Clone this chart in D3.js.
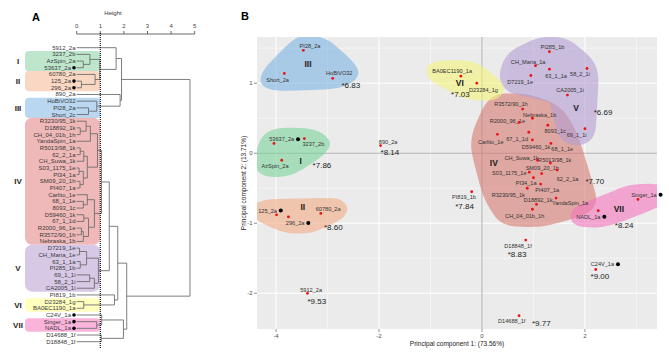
<!DOCTYPE html>
<html>
<head>
<meta charset="utf-8">
<script src="https://cdn.jsdelivr.net/npm/d3@7"></script>
<style>
    body { margin: 0; background: #fff; }
    svg { font-family: "Liberation Sans", Arial, sans-serif; }
</style>
</head>
<body>
<svg id="chart" width="669" height="356"></svg>
<script>
// ---------- Panel A : dendrogram ----------
const leaves = ["5912_2a", "3237_2b", "AzSpin_2a", "53637_2a", "60780_2a", "125_2a", "296_2a", "890_2a",
    "HoBiVO32", "PI28_2a", "Short_2c", "R3230/95_1k", "D18892_1k", "CH_04_01b_1h", "YandaSpin_1a",
    "R5013/98_1k", "62_2_1a", "CH_Suwa_1k", "S03_1175_1e", "PI34_1a", "SM09_20_1h", "PI407_1a",
    "Carlito_1e", "68_1_1e", "8093_1c", "D59460_1k", "67_1_1d", "R2000_96_1e", "R3572/90_1h",
    "Nebraska_1b", "D7219_1e", "CH_Maria_1e", "63_1_1a", "PI285_1b", "69_1_1i", "58_2_1i", "CA2005_1i",
    "PI819_1b", "D23284_1g", "BA0EC1190_1a", "C24V_1a", "Singer_1a", "NADL_1a", "D14688_1f", "D18848_1f"];

const markedLeaves = ["53637_2a", "125_2a", "296_2a", "C24V_1a", "Singer_1a", "NADL_1a"];

// [node id, child 1, child 2, height]
const merges = [
    ["i1", "AzSpin_2a", "53637_2a", 0.28],
    ["i2", "3237_2b", "i1", 0.56],
    ["ii1", "125_2a", "296_2a", 0.2],
    ["ii2", "60780_2a", "ii1", 0.78],
    ["a1", "i2", "ii2", 0.98],
    ["a2", "5912_2a", "a1", 1.67],
    ["iii1", "PI28_2a", "Short_2c", 0.5],
    ["iii2", "HoBiVO32", "iii1", 0.85],
    ["a3", "890_2a", "iii2", 1.84],
    ["a4", "a2", "a3", 1.9],
    ["n1", "D18892_1k", "CH_04_01b_1h", 0.15],
    ["n2", "R3230/95_1k", "n1", 0.4],
    ["n3", "n2", "YandaSpin_1a", 0.58],
    ["n4", "R5013/98_1k", "62_2_1a", 0.15],
    ["n5", "n4", "CH_Suwa_1k", 0.3],
    ["n6", "S03_1175_1e", "PI34_1a", 0.1],
    ["n7", "SM09_20_1h", "PI407_1a", 0.14],
    ["n8", "n6", "n7", 0.28],
    ["n9", "n5", "n8", 0.45],
    ["n10", "n3", "n9", 0.88],
    ["m1", "68_1_1e", "8093_1c", 0.28],
    ["m2", "Carlito_1e", "m1", 0.45],
    ["m3", "D59460_1k", "67_1_1d", 0.3],
    ["m4", "R2000_96_1e", "R3572/90_1h", 0.2],
    ["m5", "m4", "Nebraska_1b", 0.28],
    ["m6", "m3", "m5", 0.5],
    ["m7", "m2", "m6", 0.75],
    ["iv", "n10", "m7", 1.05],
    ["v1", "D7219_1e", "CH_Maria_1e", 0.12],
    ["v2", "63_1_1a", "PI285_1b", 0.15],
    ["v3", "v1", "v2", 0.42],
    ["v4", "69_1_1i", "58_2_1i", 0.55],
    ["v5", "v4", "CA2005_1i", 0.75],
    ["v", "v3", "v5", 0.92],
    ["b1", "iv", "v", 1.38],
    ["vi", "D23284_1g", "BA0EC1190_1a", 0.3],
    ["b2", "PI819_1b", "vi", 1.6],
    ["b3", "b1", "b2", 1.74],
    ["vii", "Singer_1a", "NADL_1a", 0.85],
    ["c1", "C24V_1a", "vii", 1.06],
    ["c2", "D14688_1f", "D18848_1f", 1.04],
    ["c3", "c1", "c2", 1.98],
    ["b4", "b3", "c3", 2.12],
    ["root", "a4", "b4", 4.8]
];

const heightTicks = [0, 1, 2, 3, 4, 5];

const groupNames = ["I", "II", "III", "IV", "V", "VI", "VII"];
const groupFirst = ["3237_2b", "60780_2a", "HoBiVO32", "R3230/95_1k", "D7219_1e", "D23284_1g", "Singer_1a"];
const groupLast = ["53637_2a", "296_2a", "Short_2c", "Nebraska_1b", "CA2005_1i", "BA0EC1190_1a", "NADL_1a"];
const boxColors = ["#bee6cd", "#fad7c3", "#b9d7f0", "#f0b9b9", "#d7c8e6", "#ffffbe", "#fab4dc"];
const hullColors = ["#7ad49a", "#f3ac86", "#7db4e3", "#d77a72", "#b49ed4", "#f3f37a", "#f375bd"];

// ---------- Panel B : PCA ----------
const pcaNames = ["PI28_2a", "Short_2a", "HoBiVO32", "BA0EC1190_1a", "D23284_1g",
    "PI285_1b", "CH_Maria_1a", "63_1_1a", "58_2_1i", "D7219_1e", "CA2005_1i", "69_1_1i",
    "R3572/90_1h", "Nebraska_1b", "R2000_96_1e", "8093_1c", "Carlito_1e", "67_1_1d", "D59460_1k",
    "68_1_1e", "CH_Suwa_1k", "R5013/98_1k", "SM09_20_1h", "S03_1175_1e", "62_2_1a", "PI34_1a",
    "PI407_1a", "R3230/95_1k", "YandaSpin_1a", "D18892_1k", "CH_04_01b_1h",
    "53637_2a", "3237_2b", "AzSpin_2a", "125_2a", "296_2a", "60780_2a", "Singer_1a", "NADL_1a",
    "890_2a", "PI819_1b", "5912_2a", "D18848_1f", "C24V_1a", "D14688_1f"];
const pc1 = [-3.47, -3.84, -2.90, -0.41, -0.10,
    1.31, 1.04, 1.31, 2.04, 0.95, 1.66, 2.00,
    0.79, 0.98, 0.72, 1.28, 0.30, 0.91, 0.98,
    1.34, 1.08, 1.33, 1.16, 0.92, 1.46, 1.00,
    1.14, 0.88, 1.44, 1.06, 0.98,
    -4.04, -3.45, -3.89, -3.99, -3.76, -3.13, 3.03, 2.26,
    -1.97, -0.20, -3.39, 0.85, 2.21, 0.72];
const pc2 = [1.47, 1.14, 1.07, 1.10, 1.00,
    1.45, 1.25, 1.20, 1.21, 1.11, 0.83, 0.35,
    0.63, 0.50, 0.44, 0.40, 0.27, 0.30, 0.19,
    0.14, -0.10, -0.14, -0.29, -0.27, -0.24, -0.35,
    -0.44, -0.50, -0.64, -0.73, -0.80,
    0.14, 0.21, -0.10, -0.88, -0.91, -0.86, -0.66, -0.82,
    0.11, -0.55, -2.00, -1.24, -1.66, -2.32];
const pcaGroup = ["III", "III", "III", "VI", "VI",
    "V", "V", "V", "V", "V", "V", "V",
    "IV", "IV", "IV", "IV", "IV", "IV", "IV",
    "IV", "IV", "IV", "IV", "IV", "IV", "IV",
    "IV", "IV", "IV", "IV", "IV",
    "I", "I", "I", "II", "II", "II", "VII", "VII",
    "", "", "", "", "", ""];

// cluster annotations (text, pc1, pc2 anchor)
const scoreText = ["*6.83", "*7.03", "*6.69", "*7.86", "*8.14", "*8.60", "*7.70", "*7.84", "*8.24", "*9.53", "*8.83", "*9.00", "*9.77"];
const scoreX = [-2.73, -0.60, 2.17, -3.29, -1.97, -3.07, 2.01, -0.52, 2.58, -3.39, 0.50, 2.11, 0.97];
const scoreY = [0.97, 0.84, 0.59, -0.17, 0.02, -1.05, -0.40, -0.76, -1.02, -2.11, -1.44, -1.76, -2.42];

const romanX = [-3.52, -3.48, -3.38, 0.23, 1.83, -0.43, 2.66];
const romanY = [-0.11, -0.77, 1.27, -0.14, 0.65, 1.00, -0.80];

const pcxTicks = [-4, -2, 0, 2];
const pcyTicks = [-2, -1, 0, 1];

// label nudges in px (layout only)
const labelNudge = {
    "PI28_2a": [6.7, -4.3], "Short_2a": [-6.7, 6.4], "HoBiVO32": [6.6, -5],
    "BA0EC1190_1a": [-8.7, -5], "D23284_1g": [6.6, 6.6],
    "PI285_1b": [3, -4.4], "CH_Maria_1a": [-7.4, -4], "63_1_1a": [6.7, 6.7], "58_2_1i": [-7, 5.7],
    "D7219_1e": [-10.7, 6], "CA2005_1i": [2.7, -5], "69_1_1i": [-8.3, 6],
    "R3572/90_1h": [-11.7, -4.7], "Nebraska_1b": [7.3, -3.6], "R2000_96_1e": [-11.6, -1.6],
    "8093_1c": [7.3, 5.7], "Carlito_1e": [-6.6, 7.4], "67_1_1d": [-11.7, 6.3], "D59460_1k": [3.7, 7],
    "68_1_1e": [11.3, 5.7], "CH_Suwa_1k": [-16, -2.3], "R5013/98_1k": [4.3, -3.4],
    "SM09_20_1h": [0.6, -5.3], "S03_1175_1e": [-20, 0.6], "62_2_1a": [10.4, 9], "PI34_1a": [-7.3, 5.3],
    "PI407_1a": [6.6, 6.3], "R3230/95_1k": [-19, 6.3], "YandaSpin_1a": [14, 5], "D18892_1k": [1.6, -4.3],
    "CH_04_01b_1h": [-7.7, 6.7], "53637_2a": [7.7, -4.3], "3237_2b": [9, 5], "AzSpin_2a": [-6.7, 6],
    "125_2a": [-9, -4.3], "296_2a": [6.7, 6], "60780_2a": [7.3, -4.6], "Singer_1a": [6, -4.7],
    "NADL_1a": [-10, 6], "890_2a": [7.6, -3.3], "PI819_1b": [-7.7, 5.6], "5912_2a": [3.7, -3.4],
    "D18848_1f": [-7.7, 6], "C24V_1a": [6.7, -5.3], "D14688_1f": [-7.3, 5.3]
};

// cluster V has a concave tail: draw it as two overlapping blobs
const hullTail = {"V": ["CA2005_1i", "58_2_1i", "69_1_1i"]};

const svg = d3.select("#chart");

// =============== Panel A ===============
const hx = d3.scaleLinear().domain([0, 5]).range([76.7, 194.7]);
const leafY = d3.scalePoint().domain(leaves).range([47.7, 341.7]);

svg.append("text").attr("x", 36).attr("y", 21).attr("text-anchor", "middle")
    .style("font-size", "11px").style("font-weight", "bold").text("A");
svg.append("text").attr("x", 113).attr("y", 15).attr("text-anchor", "middle")
    .style("font-size", "6px").style("fill", "#333").text("Height");

const axisA = svg.append("g");
axisA.append("line").attr("x1", hx(0)).attr("x2", hx(5)).attr("y1", 34).attr("y2", 34)
    .style("stroke", "#444").style("stroke-width", 0.8);
axisA.selectAll(".tk").data(heightTicks).enter().append("line")
    .attr("x1", d => hx(d)).attr("x2", d => hx(d)).attr("y1", 31).attr("y2", 34)
    .style("stroke", "#444").style("stroke-width", 0.8);
axisA.selectAll(".tl").data(heightTicks).enter().append("text")
    .attr("x", d => hx(d)).attr("y", 28).attr("text-anchor", "middle")
    .style("font-size", "6px").style("fill", "#444").text(d => d);

// group boxes
svg.append("g").selectAll("rect").data(groupNames).enter().append("rect")
    .attr("x", 25)
    .attr("y", (d, i) => leafY(groupFirst[i]) - 3.4)
    .attr("width", hx(1) - 25)
    .attr("height", (d, i) => leafY(groupLast[i]) - leafY(groupFirst[i]) + 6.8)
    .attr("rx", (d, i) => i === 3 || i === 4 ? 7 : 4)
    .style("fill", (d, i) => boxColors[i]);

svg.append("g").selectAll("text").data(groupNames).enter().append("text")
    .attr("x", 18)
    .attr("y", (d, i) => (leafY(groupFirst[i]) + leafY(groupLast[i])) / 2 + 3)
    .attr("text-anchor", "middle")
    .style("font-size", "8px").style("font-weight", "bold").style("fill", "#222")
    .text(d => d);

// tree
const pos = {};
leaves.forEach(l => pos[l] = {x: hx(0), y: leafY(l)});
const tree = svg.append("g");
merges.forEach(([id, c1, c2, h]) => {
    const a = pos[c1], b = pos[c2];
    const node = {x: hx(h), y: (a.y + b.y) / 2};
    pos[id] = node;
    tree.append("path")
        .attr("d", `M${a.x},${a.y}H${node.x}V${b.y}H${b.x}`)
        .style("fill", "none").style("stroke", "#6e6e6e").style("stroke-width", 0.9);
});

// cut line
svg.append("line").attr("x1", hx(1)).attr("x2", hx(1)).attr("y1", 33).attr("y2", 348)
    .style("stroke", "#111").style("stroke-width", 1.2).style("stroke-dasharray", "1,1");

// leaf labels
svg.append("g").selectAll("text").data(leaves).enter().append("text")
    .attr("x", d => markedLeaves.includes(d) ? 71 : 75.5)
    .attr("y", d => leafY(d) + 2)
    .attr("text-anchor", "end")
    .style("font-size", "6px").style("fill", "#3a3a3a")
    .text(d => d);
svg.append("g").selectAll("circle").data(markedLeaves).enter().append("circle")
    .attr("cx", 74).attr("cy", d => leafY(d)).attr("r", 1.8).style("fill", "#000");

// =============== Panel B ===============
const px = d3.scaleLinear().domain([-4.37, 3.40]).range([257, 657]);
const py = d3.scaleLinear().domain([-2.51, 1.66]).range([329, 37]);

svg.append("text").attr("x", 245).attr("y", 20).attr("text-anchor", "middle")
    .style("font-size", "11px").style("font-weight", "bold").text("B");

svg.append("defs").append("clipPath").attr("id", "panelClip")
    .append("rect").attr("x", 257).attr("y", 37).attr("width", 400).attr("height", 292);

svg.append("rect").attr("x", 257).attr("y", 37).attr("width", 400).attr("height", 292)
    .style("fill", "#ebebeb");

const grid = svg.append("g");
d3.range(-4, 3.5, 1).forEach(v => {
    grid.append("line").attr("x1", px(v)).attr("x2", px(v)).attr("y1", 37).attr("y2", 329)
        .style("stroke", "#fff").style("stroke-width", v % 2 === 0 ? 1 : 0.5);
});
d3.range(-2, 1.6, 0.5).forEach(v => {
    grid.append("line").attr("x1", 257).attr("x2", 657).attr("y1", py(v)).attr("y2", py(v))
        .style("stroke", "#fff").style("stroke-width", Number.isInteger(v) ? 1 : 0.5);
});
grid.append("line").attr("x1", px(0)).attr("x2", px(0)).attr("y1", 37).attr("y2", 329)
    .style("stroke", "#999").style("stroke-width", 0.8);
grid.append("line").attr("x1", 257).attr("x2", 657).attr("y1", py(0)).attr("y2", py(0))
    .style("stroke", "#999").style("stroke-width", 0.8);

// axes
const xAxis = svg.append("g");
xAxis.selectAll("line").data(pcxTicks).enter().append("line")
    .attr("x1", d => px(d)).attr("x2", d => px(d)).attr("y1", 329).attr("y2", 332)
    .style("stroke", "#444").style("stroke-width", 0.6);
xAxis.selectAll("text").data(pcxTicks).enter().append("text")
    .attr("x", d => px(d)).attr("y", 338).attr("text-anchor", "middle")
    .style("font-size", "6px").style("fill", "#4d4d4d").text(d => d);
const yAxis = svg.append("g");
yAxis.selectAll("line").data(pcyTicks).enter().append("line")
    .attr("x1", 254).attr("x2", 257).attr("y1", d => py(d)).attr("y2", d => py(d))
    .style("stroke", "#444").style("stroke-width", 0.6);
yAxis.selectAll("text").data(pcyTicks).enter().append("text")
    .attr("x", 252.5).attr("y", d => py(d) + 2).attr("text-anchor", "end")
    .style("font-size", "6px").style("fill", "#4d4d4d").text(d => d);

svg.append("text").attr("x", 457).attr("y", 346).attr("text-anchor", "middle")
    .style("font-size", "6.5px").style("fill", "#222").text("Principal component 1: (73.56%)");
svg.append("text").attr("transform", "translate(246,183) rotate(-90)").attr("text-anchor", "middle")
    .style("font-size", "6.5px").style("fill", "#222").text("Principal component 2: (13.71%)");

// data points
const pts = pcaNames.map((n, i) => ({name: n, x: px(pc1[i]), y: py(pc2[i]), group: pcaGroup[i]}));

const hullLayer = svg.append("g").attr("clip-path", "url(#panelClip)");
const plotLayer = svg.append("g");

const labels = plotLayer.selectAll(".plab").data(pts).enter().append("text")
    .attr("class", "plab")
    .attr("x", d => d.x + labelNudge[d.name][0])
    .attr("y", d => d.y + labelNudge[d.name][1] + 2)
    .attr("text-anchor", "middle")
    .style("font-size", "5.6px").style("fill", "#333")
    .text(d => d.name);

labels.each(function (d) {
    d.box = this.getBBox();
});

const markedPts = pts.filter(d => markedLeaves.includes(d.name));
plotLayer.selectAll(".mk").data(markedPts).enter().append("circle")
    .attr("cx", d => d.box.x + d.box.width + 3)
    .attr("cy", d => d.box.y + d.box.height / 2)
    .attr("r", 2).style("fill", "#000");

plotLayer.selectAll(".pt").data(pts).enter().append("circle")
    .attr("cx", d => d.x).attr("cy", d => d.y).attr("r", 1.4)
    .style("fill", "#ee1111");

// resample a closed polygon into evenly spaced points
function resample(poly, step) {
    const segs = poly.map((p, i) => [p, poly[(i + 1) % poly.length]]);
    const lens = segs.map(([a, b]) => Math.hypot(b[0] - a[0], b[1] - a[1]));
    const total = d3.sum(lens);
    const n = Math.max(8, Math.round(total / step));
    const out = [];
    let si = 0, acc = 0;
    for (let k = 0; k < n; k++) {
        const t = k * total / n;
        while (acc + lens[si] < t) { acc += lens[si]; si++; }
        const f = (t - acc) / (lens[si] || 1);
        const [a, b] = segs[si];
        out.push([a[0] + f * (b[0] - a[0]), a[1] + f * (b[1] - a[1])]);
    }
    return out;
}

// smooth blob around points and their labels
function hullPath(members, r) {
    const ring = [];
    members.forEach(d => {
        const b = d.box, cy = b.y + b.height / 2;
        const anchors = [[d.x, d.y], [b.x + 2, cy], [b.x + b.width / 2, cy], [b.x + b.width - 2, cy]];
        if (markedLeaves.includes(d.name)) anchors.push([b.x + b.width + 3, cy]);
        anchors.forEach(([x, y]) => {
            for (let k = 0; k < 24; k++) {
                const a = k * Math.PI / 12;
                ring.push([x + r * Math.cos(a), y + r * Math.sin(a)]);
            }
        });
    });
    const h = d3.polygonHull(ring);
    return d3.line().curve(d3.curveBasisClosed)(resample(h, 16));
}

groupNames.forEach((g, i) => {
    const members = pts.filter(d => d.group === g);
    const tail = hullTail[g] || [];
    const parts = tail.length
        ? [members.filter(d => d.name !== tail[tail.length - 1]), members.filter(d => tail.includes(d.name))]
        : [members];
    const layer = hullLayer.append("g").style("opacity", 0.6);
    parts.forEach(p => {
        layer.append("path")
            .attr("d", hullPath(p, 11))
            .style("fill", hullColors[i]);
    });
});

// roman numerals
plotLayer.selectAll(".rn").data(groupNames).enter().append("text")
    .attr("x", (d, i) => px(romanX[i])).attr("y", (d, i) => py(romanY[i]) + 3)
    .attr("text-anchor", "middle")
    .style("font-size", "8.5px").style("font-weight", "bold").style("fill", "#222")
    .text(d => d);

// cluster scores
plotLayer.selectAll(".sc").data(scoreText).enter().append("text")
    .attr("x", (d, i) => px(scoreX[i])).attr("y", (d, i) => py(scoreY[i]) + 3)
    .style("font-size", "8px").style("fill", "#222")
    .text(d => d);
</script>
</body>
</html>
